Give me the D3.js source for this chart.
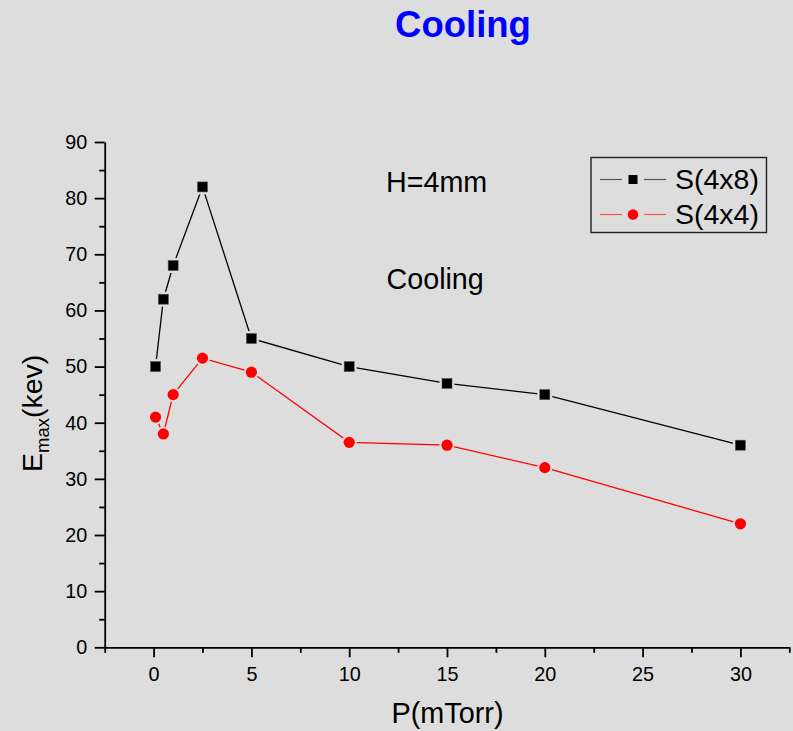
<!DOCTYPE html>
<html>
<head>
<meta charset="utf-8">
<script src="https://cdn.jsdelivr.net/npm/d3@7"></script>
<style>
  html, body { margin: 0; padding: 0; background: #dddddd; }
  svg { display: block; }
  text { font-family: "Liberation Sans", Arial, sans-serif; }
</style>
</head>
<body>
<svg id="chart" width="793" height="731"></svg>
<script>
// ---- data ----
const pressure = [0.1, 0.5, 1, 2.5, 5, 10, 15, 20, 30];
const s4x8 = [50, 62, 68, 82, 55, 50, 47, 45, 36];
const s4x4 = [41, 38, 45, 51.5, 49, 36.5, 36, 32, 22];
const seriesNames = ["S(4x8)", "S(4x4)"];
const xMajorTicks = [0, 5, 10, 15, 20, 25, 30];
const xMinorTicks = [-2.5, 2.5, 7.5, 12.5, 17.5, 22.5, 27.5, 32.5];
const yMajorTicks = [0, 10, 20, 30, 40, 50, 60, 70, 80, 90];
const yMinorTicks = [5, 15, 25, 35, 45, 55, 65, 75, 85];

const BG = "#dddddd";
const svg = d3.select("#chart");
svg.append("rect").attr("width", 793).attr("height", 731).attr("fill", BG);

const x = d3.scaleLinear().domain([-2.5, 32.5]).range([104.7, 789.3]);
const y = d3.scaleLinear().domain([0, 90]).range([647.3, 142]);

// title
svg.append("text").attr("x", 463).attr("y", 37).attr("text-anchor", "middle")
  .attr("font-size", 36.5).attr("font-weight", "bold").attr("fill", "#0000ff").text("Cooling");

// axes
function styleAxis(g) {
  g.selectAll("path.domain").attr("stroke", "#000").attr("stroke-width", 1.8);
  g.selectAll(".tick line").attr("stroke", "#000").attr("stroke-width", 1.8);
  g.selectAll(".tick text").attr("fill", "#000").attr("font-size", 19.8)
    .attr("font-family", "'Liberation Sans', Arial, sans-serif");
}
const yAxisG = svg.append("g").attr("transform", `translate(${x(-2.5)},0)`);
yAxisG.call(d3.axisLeft(y).tickValues(yMajorTicks).tickSize(10).tickSizeOuter(0).tickPadding(7.5).tickFormat(d3.format("d")));
styleAxis(yAxisG);
const yMinorG = svg.append("g").attr("transform", `translate(${x(-2.5)},0)`);
yMinorG.call(d3.axisLeft(y).tickValues(yMinorTicks).tickSize(5.5).tickSizeOuter(0).tickFormat(""));
yMinorG.select("path.domain").remove();
styleAxis(yMinorG);

const xAxisG = svg.append("g").attr("transform", `translate(0,${y(0)})`);
xAxisG.call(d3.axisBottom(x).tickValues(xMajorTicks).tickSize(10).tickSizeOuter(0).tickPadding(10).tickFormat(d3.format("d")));
styleAxis(xAxisG);
const xMinorG = svg.append("g").attr("transform", `translate(0,${y(0)})`);
xMinorG.call(d3.axisBottom(x).tickValues(xMinorTicks).tickSize(5.5).tickSizeOuter(0).tickFormat(""));
xMinorG.select("path.domain").remove();
styleAxis(xMinorG);

// axis titles
svg.append("text").attr("x", 447.5).attr("y", 723).attr("text-anchor", "middle")
  .attr("font-size", 28.8).attr("fill", "#000").text("P(mTorr)");
const yt = svg.append("text").attr("transform", "translate(42,472) rotate(-90)")
  .attr("font-size", 28.5).attr("fill", "#000");
yt.append("tspan").text("E");
yt.append("tspan").attr("font-size", 18.5).attr("dy", 7).text("max");
yt.append("tspan").attr("dy", -7).text("(kev)");

// annotations
svg.append("text").attr("x", 386).attr("y", 192).attr("font-size", 28.7).attr("fill", "#000").text("H=4mm");
svg.append("text").attr("x", 386.5).attr("y", 289).attr("font-size", 28.7).attr("fill", "#000").text("Cooling");

// series
const line = d3.line().x((d, i) => x(pressure[i])).y(d => y(d));

function drawSeries(vals, color, shape) {
  const g = svg.append("g");
  g.append("path").datum(vals).attr("d", line).attr("fill", "none")
    .attr("stroke", color).attr("stroke-width", 1.3);
  if (shape === "square") {
    g.selectAll("rect.halo").data(vals).join("rect").attr("class", "halo")
      .attr("x", (d, i) => x(pressure[i]) - 7.5).attr("y", d => y(d) - 7.5)
      .attr("width", 15).attr("height", 15).attr("fill", BG);
    g.selectAll("rect.mk").data(vals).join("rect").attr("class", "mk")
      .attr("x", (d, i) => x(pressure[i]) - 5).attr("y", d => y(d) - 5)
      .attr("width", 10).attr("height", 10).attr("fill", color)
      .attr("stroke", "#555").attr("stroke-width", 0.6);
  } else {
    g.selectAll("circle.halo").data(vals).join("circle").attr("class", "halo")
      .attr("cx", (d, i) => x(pressure[i])).attr("cy", d => y(d)).attr("r", 7.5).attr("fill", BG);
    g.selectAll("circle.mk").data(vals).join("circle").attr("class", "mk")
      .attr("cx", (d, i) => x(pressure[i])).attr("cy", d => y(d)).attr("r", 5.6).attr("fill", color);
  }
}
drawSeries(s4x8, "#000000", "square");
drawSeries(s4x4, "#ff0000", "circle");

// legend
const lg = svg.append("g");
lg.append("rect").attr("x", 591).attr("y", 157.5).attr("width", 175.5).attr("height", 75)
  .attr("fill", BG).attr("stroke", "#222").attr("stroke-width", 1.4);
const legendRows = [
  {name: seriesNames[0], color: "#000000", shape: "square", cy: 179.5, lineColor: "#555"},
  {name: seriesNames[1], color: "#ff0000", shape: "circle", cy: 214.5, lineColor: "#ff5555"}
];
legendRows.forEach(r => {
  lg.append("line").attr("x1", 600).attr("x2", 622).attr("y1", r.cy).attr("y2", r.cy)
    .attr("stroke", r.lineColor).attr("stroke-width", 1.2);
  lg.append("line").attr("x1", 644).attr("x2", 666).attr("y1", r.cy).attr("y2", r.cy)
    .attr("stroke", r.lineColor).attr("stroke-width", 1.2);
  if (r.shape === "square") {
    lg.append("rect").attr("x", 628.5).attr("y", r.cy - 4.5).attr("width", 9).attr("height", 9).attr("fill", r.color);
  } else {
    lg.append("circle").attr("cx", 633).attr("cy", r.cy).attr("r", 5.3).attr("fill", r.color);
  }
  lg.append("text").attr("x", 675).attr("y", r.cy + 9).attr("font-size", 28.5).attr("fill", "#000").text(r.name);
});
</script>
</body>
</html>
